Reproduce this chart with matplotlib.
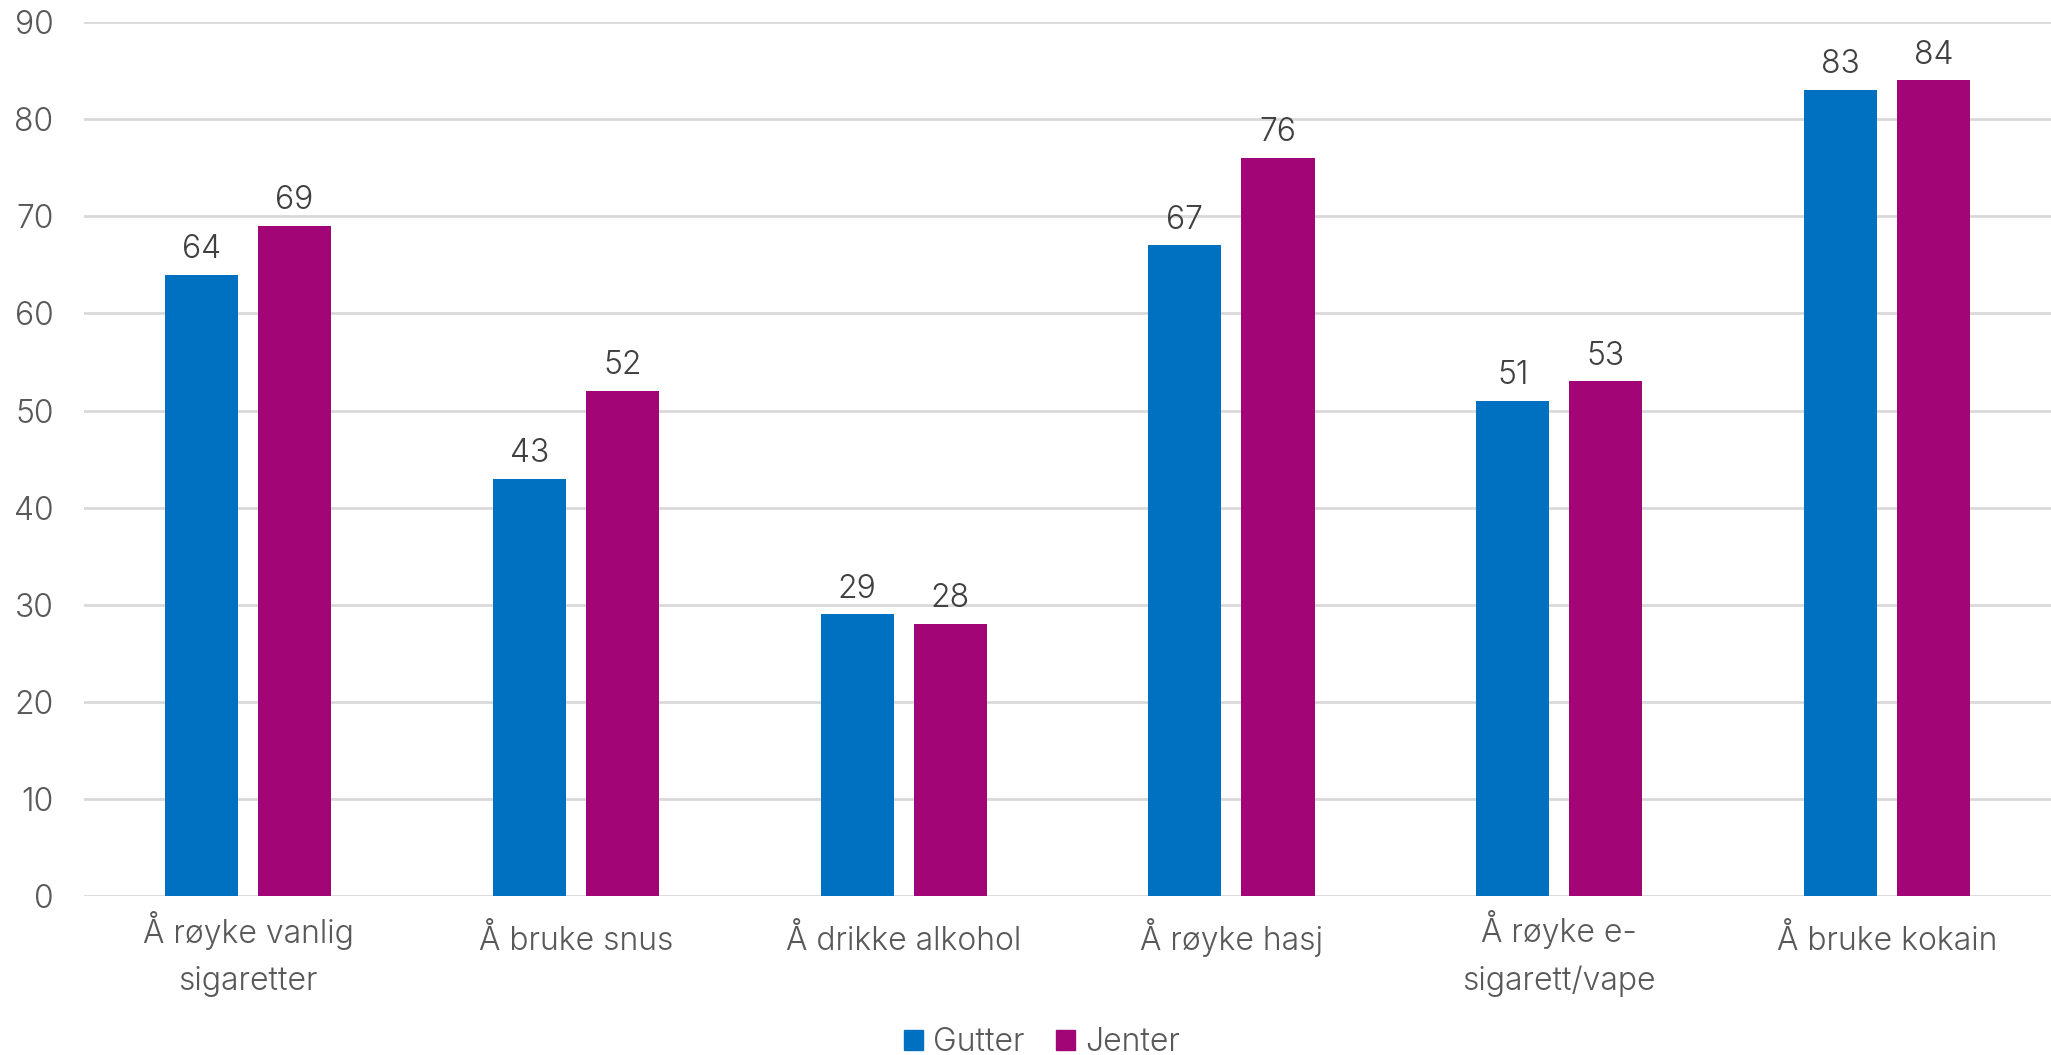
import matplotlib
matplotlib.use("Agg")
import matplotlib.pyplot as plt
import matplotlib.transforms as mtransforms
from matplotlib.font_manager import FontProperties
import numpy as np
from matplotlib.patches import Patch

categories = ["Å røyke vanlig\nsigaretter", "Å bruke snus", "Å drikke alkohol",
              "Å røyke hasj", "Å røyke e-\nsigarett/vape", "Å bruke kokain"]
gutter = [64, 43, 29, 67, 51, 83]
jenter = [69, 52, 28, 76, 53, 84]
series_names = ["Gutter", "Jenter"]
yticks = [0, 10, 20, 30, 40, 50, 60, 70, 80, 90]

blue = "#0070C0"
magenta = "#A20576"
text_col = "#595959"
label_col = "#404040"

FAMILY = ['Inter', 'DejaVu Sans']
plt.rcParams['font.family'] = FAMILY
FW = 300
FS = 23

fig = plt.figure(figsize=(20.51, 10.55), dpi=100)
ax = fig.add_axes([0.041, 0.1507, 0.959, 0.8283])

x = np.arange(len(categories))
w = 0.223
off = 0.142
b1 = ax.bar(x - off, gutter, w, color=blue, label=series_names[0], zorder=3)
b2 = ax.bar(x + off, jenter, w, color=magenta, label=series_names[1], zorder=3)

for bars, vals in ((b1, gutter), (b2, jenter)):
    for r, v in zip(bars, vals):
        ax.annotate(str(v), (r.get_x() + r.get_width() / 2, v), xytext=(0, 7),
                    textcoords="offset points", ha="center", va="bottom",
                    fontsize=FS, color=label_col, fontweight=FW)

# line pitch for the wrapped category labels (~40 px)
renderer = fig.canvas.get_renderer()
fp = FontProperties(family=FAMILY, weight=FW, size=FS)
_, lp_h, lp_d = renderer.get_text_width_height_descent("lp", fp, ismath=False)
target_pitch = 40.0
LS = target_pitch / (lp_h - lp_d)

ax.set_xlim(-0.5, len(categories) - 0.5)
ax.set_ylim(0, 90)
ax.set_yticks(yticks)
ax.set_yticklabels([str(t) for t in yticks], fontsize=FS, color=text_col, fontweight=FW)
ax.set_xticks(x)
labels = ax.set_xticklabels(categories, fontsize=FS, color=text_col, linespacing=LS,
                            fontweight=FW, va='baseline')
ax.tick_params(axis='y', length=0, pad=22)
ax.tick_params(axis='x', length=0, pad=39)
for lab, cat in zip(ax.get_xticklabels(), categories):
    n = cat.count("\n")
    if n:
        shift = mtransforms.ScaledTranslation(0, -n * target_pitch / fig.dpi,
                                              fig.dpi_scale_trans)
        lab.set_transform(lab.get_transform() + shift)

ax.grid(axis='y', color="#D9D9D9", linewidth=2, zorder=0)
for s in ax.spines.values():
    s.set_visible(False)

handles = [Patch(color=blue), Patch(color=magenta)]
leg = fig.legend(handles, series_names, loc="center", bbox_to_anchor=(0.508, 0.0115),
                 ncol=2, frameon=False, prop={'size': FS, 'weight': FW},
                 handlelength=0.6, handleheight=0.6,
                 handletextpad=0.3, columnspacing=1.0)
for t in leg.get_texts():
    t.set_color(text_col)

fig.savefig("out.png", dpi=100, facecolor="white")
